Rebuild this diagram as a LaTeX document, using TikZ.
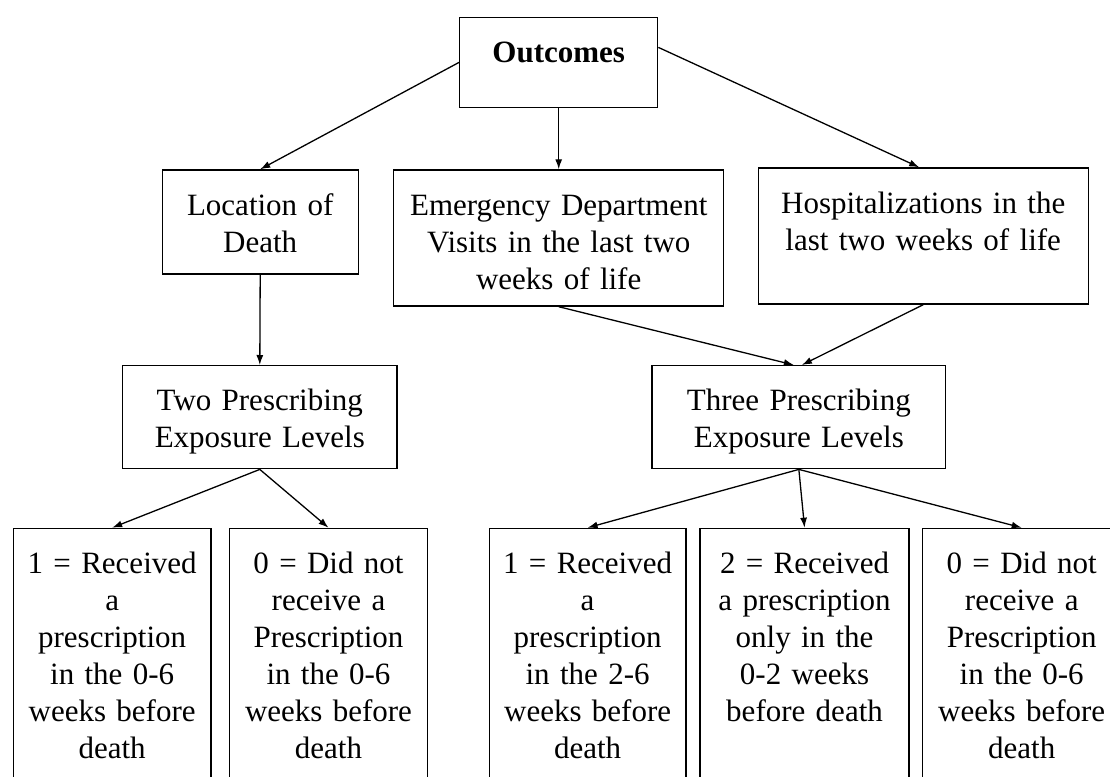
\documentclass[tikz,border=0pt]{standalone}
\usepackage{fontspec}
\setmainfont{Liberation Serif}
\usepackage{tikz}
\usetikzlibrary{arrows.meta,positioning}

\tikzset{
  box/.style={draw, line width=1.4pt, anchor=north west, align=center,
    inner sep=0pt, text height=45pt, font=\fontsize{31}{37}\selectfont},
  arr/.style={line width=1.3pt, -{Latex[length=10pt,width=7pt]}}
}

\begin{document}
\begin{tikzpicture}[x=1pt,y=-1pt]
            \path[use as bounding box, clip] (0,0) rectangle (1110,776);
            % top level
            \node[box, text width=198pt, text depth=45pt] (out) at (459,16.7) {\textbf{Outcomes}};
            % outcome boxes
            \node[box, text width=196pt, text depth=59pt] (loc) at (161.5,169.3) {Location of\\Death};
            \node[box, text width=330pt, text depth=91pt] (emerg) at (393,169.3) {Emergency Department\\Visits in the last two\\weeks of life};
            \node[box, text width=330pt, text depth=91pt] (hosp) at (757.5,167.3) {Hospitalizations in the\\last two weeks of life};
            % exposure levels
            \node[box, text width=274.6pt, text depth=58pt] (two) at (121.8,365) {Two Prescribing\\Exposure Levels};
            \node[box, text width=293.7pt, text depth=58pt] (three) at (651.3,365) {Three Prescribing\\Exposure Levels};
            % bottom row
            \node[box, text width=197.5pt, text depth=227pt] (b1) at (12.7,527.7) {1 = Received\\a\\prescription\\in the 0-6\\weeks before\\death};
            \node[box, text width=198.2pt, text depth=227pt] (b2) at (228.7,527.7) {0 = Did not\\receive a\\Prescription\\in the 0-6\\weeks before\\death};
            \node[box, text width=196.8pt, text depth=227pt] (b3) at (488.5,527.7) {1 = Received\\a\\prescription\\in the 2-6\\weeks before\\death};
            \node[box, text width=208.9pt, text depth=227pt] (b4) at (699.4,527.7) {2 = Received\\a prescription\\only in the\\0-2 weeks\\before death};
            \node[box, text width=198.6pt, text depth=227pt] (b5) at (921.7,527.7) {0 = Did not\\receive a\\Prescription\\in the 0-6\\weeks before\\death};
            % connectors
            \draw[arr] (out.west) -- (loc.north);
            \draw[arr] (out.south) -- (emerg.north);
            \draw[arr] ([yshift=15pt]out.east) -- ([xshift=-4pt]hosp.north);
            \draw[arr] (loc.south) -- (two.north);
            \draw[arr] (emerg.south) -- ([xshift=-5pt]three.north);
            \draw[arr] (hosp.south) -- ([xshift=3pt]three.north);
            \foreach \a/\b in {two/b1, two/b2, three/b3, three/b4, three/b5} {
                \draw[arr] (\a.south) -- (\b.north);
            }
\end{tikzpicture}
\end{document}
